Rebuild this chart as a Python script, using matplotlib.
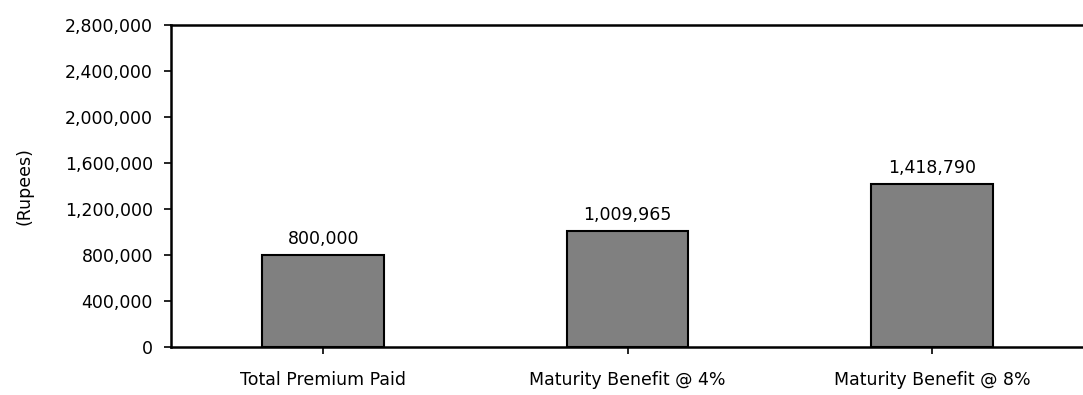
import matplotlib.pyplot as plt
from matplotlib.ticker import FuncFormatter

categories = ["Total Premium Paid", "Maturity Benefit @ 4%", "Maturity Benefit @ 8%"]
values = [800000, 1009965, 1418790]
yticks = [0, 400000, 800000, 1200000, 1600000, 2000000, 2400000, 2800000]

plt.rcParams['font.family'] = ['DejaVu Sans']
fig = plt.figure(figsize=(10.83, 3.95), dpi=100)
ax = fig.add_axes([171 / 1083, 48 / 395, 913 / 1083, 322 / 395])

x = range(len(categories))
ax.bar(x, values, width=0.4, color="#808080", edgecolor="black", linewidth=1.5)
for i, v in zip(x, values):
    ax.text(i, v + 60000, f"{v:,}", ha="center", va="bottom", fontsize=12.5)

ax.set_xlim(-0.5, 2.5)
ax.set_ylim(0, 2800000)
ax.set_yticks(yticks)
ax.yaxis.set_major_formatter(FuncFormatter(lambda v, p: f"{int(v):,}"))
ax.set_xticks(list(x))
ax.set_xticklabels(categories, fontsize=12.5)
ax.tick_params(axis="y", labelsize=12.5, length=5, width=1.2, pad=8)
ax.tick_params(axis="x", length=5, width=1.2, pad=12)
ax.set_ylabel("(Rupees)", fontsize=12.5)
ax.yaxis.set_label_coords(-0.151, 0.5)

for s in ["left", "top", "bottom"]:
    ax.spines[s].set_linewidth(1.8)
ax.spines["right"].set_visible(False)

fig.savefig("out.png", dpi=100)
